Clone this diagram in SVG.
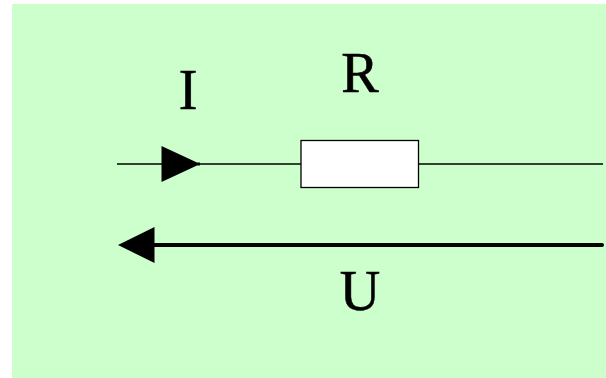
<svg xmlns="http://www.w3.org/2000/svg" width="606" height="378" viewBox="0 0 606 378">
<style>
text{font-family:"Liberation Serif","Times New Roman",serif;font-size:56px;fill:#000;stroke:#000;stroke-width:.6;text-anchor:middle}
.wire{stroke:#000;stroke-width:1.3;fill:none}
.thick{stroke:#000;stroke-width:4;fill:none}
.head{fill:#000}
</style>
<rect id="background" x="12" y="4" width="594" height="374" fill="#ccffcc"/>
<g id="connectors">
<line class="wire" x1="117" y1="164" x2="301" y2="164"/>
<line class="wire" x1="418" y1="164" x2="603" y2="164"/>
<line class="thick" x1="150" y1="245" x2="602" y2="245" stroke-linecap="round"/>
<polygon class="head" points="161.5,146 197,162.5 200,162.5 200,165.5 197,165.5 161.5,182"/>
<polygon class="head" points="118,245 154.5,227 154.5,263"/>
</g>
<g id="resistor">
<rect x="301" y="140.5" width="117.5" height="47" fill="#fff" stroke="#000" stroke-width="1.3"/>
</g>
<g id="label-I"><text x="188" y="109">I</text></g>
<g id="label-R"><text x="360" y="92">R</text></g>
<g id="label-U"><text x="360" y="310">U</text></g>
</svg>
